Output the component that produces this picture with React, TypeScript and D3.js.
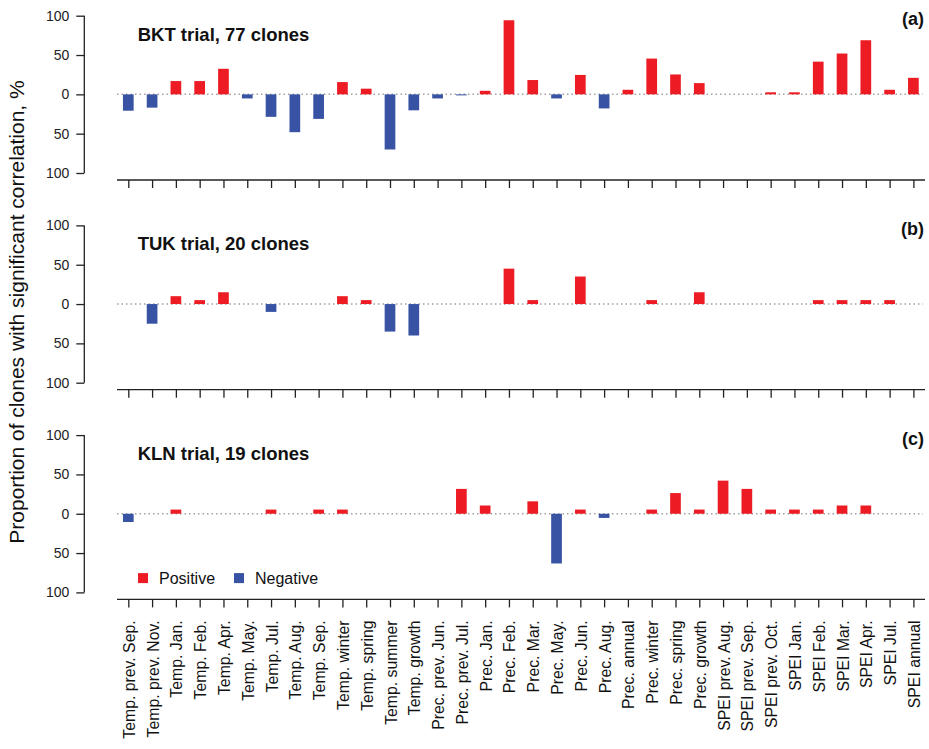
import React, { useEffect, useRef } from 'react'
import * as d3 from 'd3'

const categories = [
  'Temp. prev. Sep.', 'Temp. prev. Nov.', 'Temp. Jan.', 'Temp. Feb.', 'Temp. Apr.',
  'Temp. May.', 'Temp. Jul.', 'Temp. Aug.', 'Temp. Sep.', 'Temp. winter',
  'Temp. spring', 'Temp. summer', 'Temp. growth', 'Prec. prev. Jun.', 'Prec. prev. Jul.',
  'Prec. Jan.', 'Prec. Feb.', 'Prec. Mar.', 'Prec. May.', 'Prec. Jun.',
  'Prec. Aug.', 'Prec. annual', 'Prec. winter', 'Prec. spring', 'Prec. growth',
  'SPEI prev. Aug.', 'SPEI prev. Sep.', 'SPEI prev. Oct.', 'SPEI Jan.', 'SPEI Feb.',
  'SPEI Mar.', 'SPEI Apr.', 'SPEI Jul.', 'SPEI annual'
]

// % of clones, positive = positive correlation, negative = negative correlation
const bktValues = [
  -20.8, -16.9, 16.9, 16.9, 32.5, -5.2, -28.6, -48.1, -31.2, 15.6,
  7.2, -70.1, -20.3, -5.2, -1.3, 4.5, 94.2, 18.2, -5.2, 24.7,
  -17.9, 5.8, 45.5, 25.3, 14.3, 0, 0, 2.6, 2.6, 41.6,
  51.9, 68.8, 5.8, 21.0
]
const tukValues = [
  0, -25, 10, 5, 15, 0, -10, 0, 0, 10,
  5, -35, -40, 0, 0, 0, 45, 5, 0, 35,
  0, 0, 5, 0, 15, 0, 0, 0, 0, 5,
  5, 5, 5, 0
]
const klnValues = [
  -10.5, 0, 5.3, 0, 0, 0, 5.3, 0, 5.3, 5.3,
  0, 0, 0, 0, 31.6, 10.5, 0, 15.8, -63.2, 5.3,
  -5.3, 0, 5.3, 26.3, 5.3, 42.1, 31.6, 5.3, 5.3, 5.3,
  10.5, 10.5, 0, 0
]

const panelTitles = ['BKT trial, 77 clones', 'TUK trial, 20 clones', 'KLN trial, 19 clones']
const panelLetters = ['(a)', '(b)', '(c)']
const yTicks = [100, 50, 0, -50, -100]
const legendItems = ['Positive', 'Negative']

const RED = '#ED1C24'
const BLUE = '#3953A4'
const FONT = '"Liberation Sans", Arial, Helvetica, sans-serif'

export default function App() {
  const ref = useRef<SVGSVGElement>(null)

  useEffect(() => {
    const svg = d3.select(ref.current)
    svg.selectAll('*').remove()

    const series = [bktValues, tukValues, klnValues]
    const panelTop0 = 15.7
    const panelStep = 209.7
    const panelH = 157.3
    const axisX = 84.3

    const x = d3.scalePoint<string>().domain(categories).range([128.3, 913.4])
    const barW = 10.7

    series.forEach((values, p) => {
      const top = panelTop0 + p * panelStep
      const y = d3.scaleLinear().domain([-100, 100]).range([top + panelH, top])
      const g = svg.append('g')

      // zero reference line
      g.append('line')
        .attr('x1', 117).attr('x2', 923)
        .attr('y1', y(0)).attr('y2', y(0))
        .attr('stroke', '#a0a0a0')
        .attr('stroke-width', 1.5)
        .attr('stroke-dasharray', '1.5 3')

      g.selectAll('.bar')
        .data(values.map((v, i) => ({ v, name: categories[i] })).filter(d => d.v !== 0))
        .enter().append('rect')
        .attr('x', d => (x(d.name) as number) - barW / 2)
        .attr('width', barW)
        .attr('y', d => y(Math.max(0, d.v)))
        .attr('height', d => Math.abs(y(d.v) - y(0)))
        .attr('fill', d => (d.v > 0 ? RED : BLUE))

      // y axis
      const yAxis = g.append('g')
        .attr('transform', `translate(${axisX},0)`)
        .call(d3.axisLeft(y).tickValues(yTicks).tickSize(8).tickPadding(7)
          .tickFormat(d => String(Math.abs(d as number))))
      yAxis.select('.domain').attr('d', `M0,${y(100)}V${y(-100)}`).attr('stroke', '#222').attr('stroke-width', 1.3)
      yAxis.selectAll('.tick line').attr('stroke', '#222').attr('stroke-width', 1.3)
      yAxis.selectAll('text').attr('font-family', FONT).attr('font-size', 14).attr('fill', '#222')

      // x axis
      const xAxisY = top + panelH + 7
      const xAxis = g.append('g')
        .attr('transform', `translate(0,${xAxisY})`)
        .call(d3.axisBottom(x).tickSize(8).tickFormat(() => ''))
      xAxis.select('.domain').attr('d', 'M117,0H925').attr('stroke', '#222').attr('stroke-width', 1.3)
      xAxis.selectAll('.tick line').attr('stroke', '#222').attr('stroke-width', 1.3)

      if (p === 2) {
        g.selectAll('.xlab')
          .data(categories)
          .enter().append('text')
          .attr('transform', d => `translate(${(x(d) as number) + 1},${xAxisY + 21}) rotate(-90)`)
          .attr('text-anchor', 'end')
          .attr('dy', '0.35em')
          .attr('font-family', FONT)
          .attr('font-size', 15.8)
          .attr('fill', '#111')
          .text(d => d)
      }

      g.append('text')
        .attr('x', 137.7).attr('y', top + 25)
        .attr('font-family', FONT).attr('font-weight', 'bold').attr('font-size', 18.5)
        .attr('fill', '#111')
        .text(panelTitles[p])

      g.append('text')
        .attr('x', 924).attr('y', top + 9.5)
        .attr('text-anchor', 'end')
        .attr('font-family', FONT).attr('font-weight', 'bold').attr('font-size', 18)
        .attr('fill', '#111')
        .text(panelLetters[p])

      if (p === 2) {
        const lg = g.append('g')
        legendItems.forEach((label, i) => {
          const lx = 138 + i * 96
          lg.append('rect').attr('x', lx).attr('y', top + 138).attr('width', 10).attr('height', 10)
            .attr('fill', i === 0 ? RED : BLUE)
          lg.append('text').attr('x', lx + 21).attr('y', top + 149)
            .attr('font-family', FONT).attr('font-size', 16).attr('fill', '#111')
            .text(label)
        })
      }
    })

    svg.append('text')
      .attr('transform', 'translate(24,312) rotate(-90)')
      .attr('text-anchor', 'middle')
      .attr('font-family', FONT)
      .attr('font-size', 21)
      .attr('fill', '#111')
      .text('Proportion of clones with significant correlation, %')
  }, [])

  return (
    <svg ref={ref} width={929} height={749}
      style={{ position: 'absolute', left: 0, top: 0, background: '#fff' }} />
  )
}
